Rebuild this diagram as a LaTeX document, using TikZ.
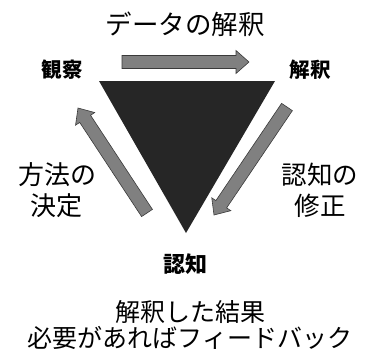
\documentclass[tikz,border=0pt]{standalone}
\usepackage{fontspec}
\setmainfont{Noto Sans CJK JP}
\usetikzlibrary{calc}
\definecolor{tri}{HTML}{262626}
\definecolor{arrfill}{HTML}{808080}
\definecolor{arrdraw}{HTML}{3A3A3A}
\tikzset{
  lbl/.style={inner sep=0pt, align=center, text=black},
  fatarr/.style={fill=arrfill, draw=arrdraw, line width=0.6pt, line join=miter}
}
\newcommand\fatarrow[2]{%
  \coordinate (H) at ($(#2)!13pt!(#1)$);
  \draw[fatarr] ($(#1)!6.5pt!-90:(#2)$) -- ($(H)!6.5pt!90:(#1)$) -- ($(H)!11.5pt!90:(#1)$) -- (#2)
    -- ($(H)!11.5pt!-90:(#1)$) -- ($(H)!6.5pt!-90:(#1)$) -- ($(#1)!6.5pt!90:(#2)$) -- cycle;}
\begin{document}
\begin{tikzpicture}[x=1pt,y=-1pt]
\useasboundingbox (0,0) rectangle (372,354);
\fill[tri] (99,81) -- (275,81) -- (186,233) -- cycle;
\coordinate (ta) at (122,62);
\coordinate (tb) at (249,62);
\coordinate (la) at (147,213);
\coordinate (lb) at (78,108);
\coordinate (ra) at (287,107);
\coordinate (rb) at (214,215);
\fatarrow{ta}{tb}
\fatarrow{la}{lb}
\fatarrow{ra}{rb}
\node[lbl, font=\fontsize{26.5}{30}\selectfont] (title) at (185,24) {データの解釈};
\node[lbl, font=\bfseries\fontsize{20.5}{22}\selectfont] (obs) at (62,70) {観察};
\node[lbl, font=\bfseries\fontsize{20.5}{22}\selectfont] (interp) at (310,70) {解釈};
\node[lbl, font=\bfseries\fontsize{22}{24}\selectfont] (cog) at (185,264) {認知};
\node[lbl, font=\fontsize{26}{31}\selectfont] (method) at (57,190) {方法の\\決定};
\node[lbl, font=\fontsize{25.5}{31}\selectfont] (fix) at (320,190) {認知の\\修正};
\node[lbl, font=\fontsize{25}{26}\selectfont] (result) at (190,325) {解釈した結果\\必要があればフィードバック};
\end{tikzpicture}
\end{document}
